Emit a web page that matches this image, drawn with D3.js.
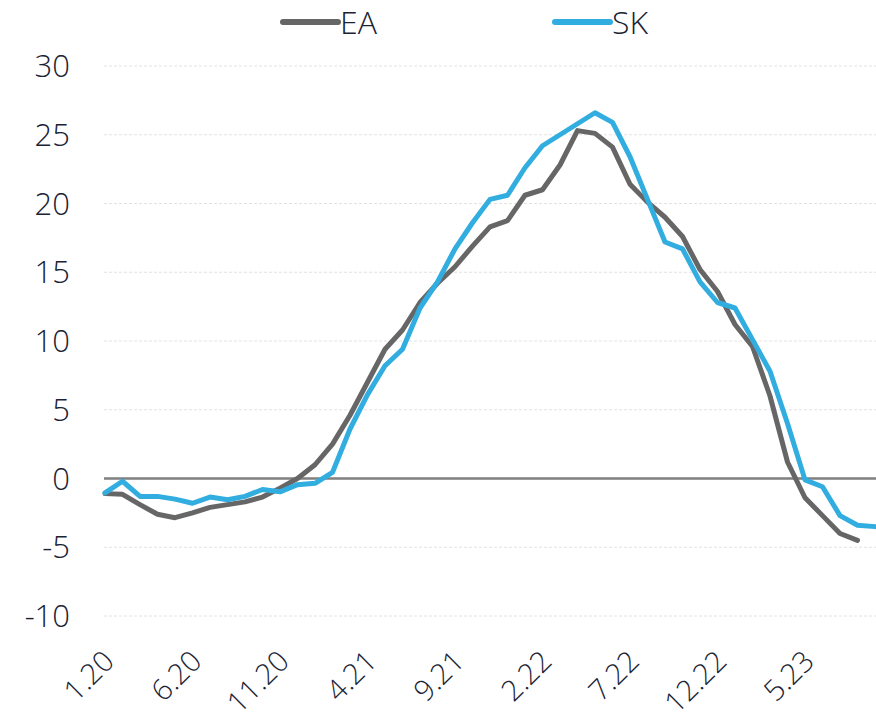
<!DOCTYPE html>
<html>
<head>
<meta charset="utf-8">
<script src="https://cdn.jsdelivr.net/npm/d3@7"></script>
<style>
  body { margin: 0; background: #fff; }
  text { font-family: "Open Sans", "Noto Sans", sans-serif; font-weight: 300; fill: #1a2334; }
</style>
</head>
<body>
<div class="chart"></div>
<script>
var svgWidth = 876;
var svgHeight = 724;

// month labels, 1.20 .. 9.23
var months = [];
for (var y = 20; y <= 23; y++) {
  for (var m = 1; m <= 12; m++) {
    if (y === 23 && m > 9) break;
    months.push(m + "." + y);
  }
}
// only every 5th month is labelled
var tickLabels = ["1.20", "6.20", "11.20", "4.21", "9.21", "2.22", "7.22", "12.22", "5.23"];
var yTicks = [-10, -5, 0, 5, 10, 15, 20, 25, 30];

// EA, 1.20 .. 8.23
var ea = [-1.1, -1.15, -1.9, -2.6, -2.85, -2.5, -2.1, -1.9, -1.7, -1.35,
  -0.7, 0.0, 1.0, 2.5, 4.6, 7.0, 9.4, 10.8, 12.8, 14.2,
  15.4, 16.9, 18.3, 18.75, 20.6, 21.0, 22.8, 25.3, 25.1, 24.1,
  21.4, 20.1, 19.0, 17.6, 15.2, 13.6, 11.2, 9.6, 6.0, 1.2,
  -1.4, -2.7, -4.0, -4.5];

// SK, 1.20 .. 9.23
var sk = [-1.05, -0.2, -1.3, -1.3, -1.5, -1.8, -1.35, -1.55, -1.3, -0.8,
  -0.97, -0.45, -0.35, 0.45, 3.6, 6.1, 8.2, 9.4, 12.4, 14.3,
  16.7, 18.6, 20.3, 20.6, 22.6, 24.2, 25.0, 25.8, 26.6, 25.9,
  23.4, 20.3, 17.2, 16.7, 14.3, 12.8, 12.4, 10.1, 7.8, 4.0,
  -0.1, -0.6, -2.7, -3.4, -3.5];

var series = [
  { name: "EA", values: ea, color: "#666666", legendX: 283 },
  { name: "SK", values: sk, color: "#31ade0", legendX: 555 }
];

var svg = d3.select(".chart")
  .append("svg")
  .attr("width", svgWidth)
  .attr("height", svgHeight);

var xScale = d3.scalePoint()
  .domain(months)
  .range([105, 875]);

var yScale = d3.scaleLinear()
  .domain([-10, 30])
  .range([616, 66]);

// gridlines
svg.append("g")
  .selectAll("line")
  .data(yTicks.filter(d => d !== 0))
  .enter()
  .append("line")
  .attr("x1", 104)
  .attr("x2", svgWidth)
  .attr("y1", d => yScale(d))
  .attr("y2", d => yScale(d))
  .attr("stroke", "#e2e2e2")
  .attr("stroke-width", 1)
  .attr("stroke-dasharray", "3,2");

// y tick labels
svg.append("g")
  .selectAll("text")
  .data(yTicks)
  .enter()
  .append("text")
  .attr("x", 70)
  .attr("y", d => yScale(d))
  .attr("dy", "0.36em")
  .attr("text-anchor", "end")
  .style("font-size", "31px")
  .text(d => d);

// zero line
svg.append("line")
  .attr("x1", 104)
  .attr("x2", svgWidth)
  .attr("y1", yScale(0))
  .attr("y2", yScale(0))
  .attr("stroke", "#7f7f7f")
  .attr("stroke-width", 2.5);

// x labels, rotated
svg.append("g")
  .selectAll("text")
  .data(tickLabels)
  .enter()
  .append("text")
  .attr("transform", d => `translate(${xScale(d) + 11}, 663) rotate(-45)`)
  .attr("text-anchor", "end")
  .style("font-size", "29px")
  .text(d => d);

// lines
var line = d3.line()
  .x((d, i) => xScale(months[i]))
  .y(d => yScale(d));

svg.append("g")
  .selectAll("path")
  .data(series)
  .enter()
  .append("path")
  .attr("d", d => line(d.values))
  .attr("fill", "none")
  .attr("stroke", d => d.color)
  .attr("stroke-width", 5)
  .attr("stroke-linejoin", "round")
  .attr("stroke-linecap", "round");

// legend
var legend = svg.append("g")
  .selectAll("g")
  .data(series)
  .enter()
  .append("g");

legend.append("line")
  .attr("x1", d => d.legendX)
  .attr("x2", d => d.legendX + 55)
  .attr("y1", 22)
  .attr("y2", 22)
  .attr("stroke", d => d.color)
  .attr("stroke-width", 6)
  .attr("stroke-linecap", "round");

legend.append("text")
  .attr("x", d => d.legendX + 57)
  .attr("y", 22)
  .attr("dy", "0.36em")
  .style("font-size", "32px")
  .text(d => d.name);
</script>
</body>
</html>
